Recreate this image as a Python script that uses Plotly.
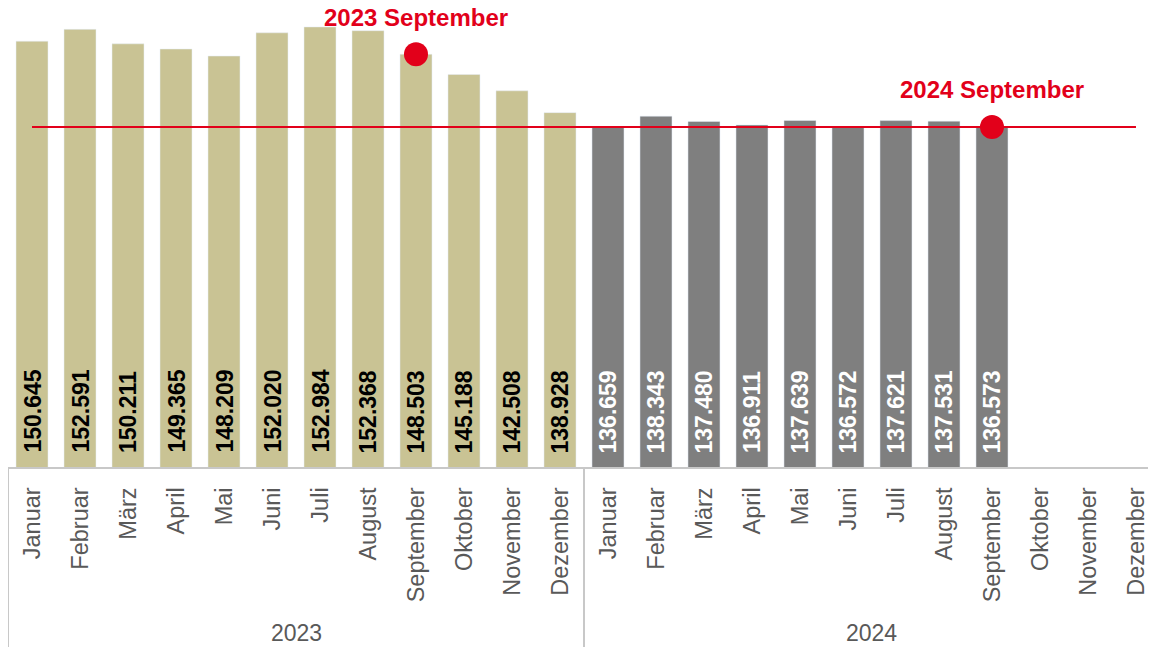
import plotly.graph_objects as go

years = ["2023", "2024"]
months = ["Januar", "Februar", "März", "April", "Mai", "Juni", "Juli",
          "August", "September", "Oktober", "November", "Dezember"]
values_2023 = [150645, 152591, 150211, 149365, 148209, 152020, 152984,
               152368, 148503, 145188, 142508, 138928]
values_2024 = [136659, 138343, 137480, 136911, 137639, 136572, 137621,
               137531, 136573]

FONT = "Liberation Sans, Arial, sans-serif"
RED = "#E2001A"
KHAKI = "#C9C394"
GREY = "#7F7F7F"
AXIS_GREY = "#C8C8C8"
TEXT_GREY = "#595959"

cats = [f"{y} {m}" for y in years for m in months]
x23 = [f"2023 {m}" for m in months[:len(values_2023)]]
x24 = [f"2024 {m}" for m in months[:len(values_2024)]]


def fmt(v):
    return f"{v:,}".replace(",", ".")


fig = go.Figure()
fig.add_trace(go.Bar(x=x23, y=values_2023, marker_color=KHAKI,
                     hoverinfo="skip", showlegend=False))
fig.add_trace(go.Bar(x=x24, y=values_2024, marker_color=GREY,
                     hoverinfo="skip", showlegend=False))

# reference line at the latest value
ref = values_2024[-1]
fig.add_trace(go.Scatter(x=[cats[0], cats[-1]], y=[ref, ref], mode="lines",
                         line=dict(color=RED, width=2), hoverinfo="skip",
                         showlegend=False))

# highlighted points
pts_x = [x23[8], x24[8]]
pts_y = [values_2023[8], values_2024[8]]
fig.add_trace(go.Scatter(x=pts_x, y=pts_y, mode="markers",
                         marker=dict(color=RED, size=24), cliponaxis=False,
                         hoverinfo="skip", showlegend=False))

annotations = []
for px, py in zip(pts_x, pts_y):
    annotations.append(dict(x=px, y=py, xref="x", yref="y", text=f"<b>{px}</b>",
                            showarrow=False, yanchor="middle", yshift=37,
                            font=dict(family=FONT, size=24, color=RED)))

for xs, vs, col in [(x23, values_2023, "black"), (x24, values_2024, "white")]:
    for xv, v in zip(xs, vs):
        annotations.append(dict(x=xv, y=0, xref="x", yref="paper",
                                text=f"<b>{fmt(v)}</b>", textangle=-90,
                                showarrow=False, yanchor="bottom", yshift=12,
                                font=dict(family=FONT, size=23, color=col)))

# year group labels
for i, y in enumerate(years):
    annotations.append(dict(x=i * len(months) + (len(months) - 1) / 2, y=-0.362,
                            xref="x", yref="paper", text=y, showarrow=False,
                            yanchor="middle",
                            font=dict(family=FONT, size=23, color=TEXT_GREY)))

shapes = []
for i in range(len(years) + 1):
    shapes.append(dict(type="line", xref="x", yref="paper",
                       x0=i * len(months) - 0.5, x1=i * len(months) - 0.5,
                       y0=0, y1=-0.4, line=dict(color=AXIS_GREY, width=2)))
shapes.append(dict(type="line", xref="x domain", yref="paper", x0=0, x1=0,
                   y0=0, y1=-0.4, line=dict(color=AXIS_GREY, width=2)))

fig.update_layout(
    width=1148, height=639,
    margin=dict(l=0, r=0, t=0, b=180),
    paper_bgcolor="white", plot_bgcolor="white",
    barmode="overlay", bargap=1 / 3,
    annotations=annotations, shapes=shapes,
    xaxis=dict(type="category", categoryorder="array", categoryarray=cats,
               tickvals=cats, ticktext=months * len(years), tickangle=-90,
               range=[-0.5, 23.417], showgrid=False, zeroline=False,
               showline=True, linecolor=AXIS_GREY, linewidth=2, ticks="",
               ticklabelstandoff=9,
               tickfont=dict(family=FONT, size=23.5, color=TEXT_GREY)),
    yaxis=dict(range=[80800, 156090], visible=False, showgrid=False),
)

fig.write_html("out.html")
